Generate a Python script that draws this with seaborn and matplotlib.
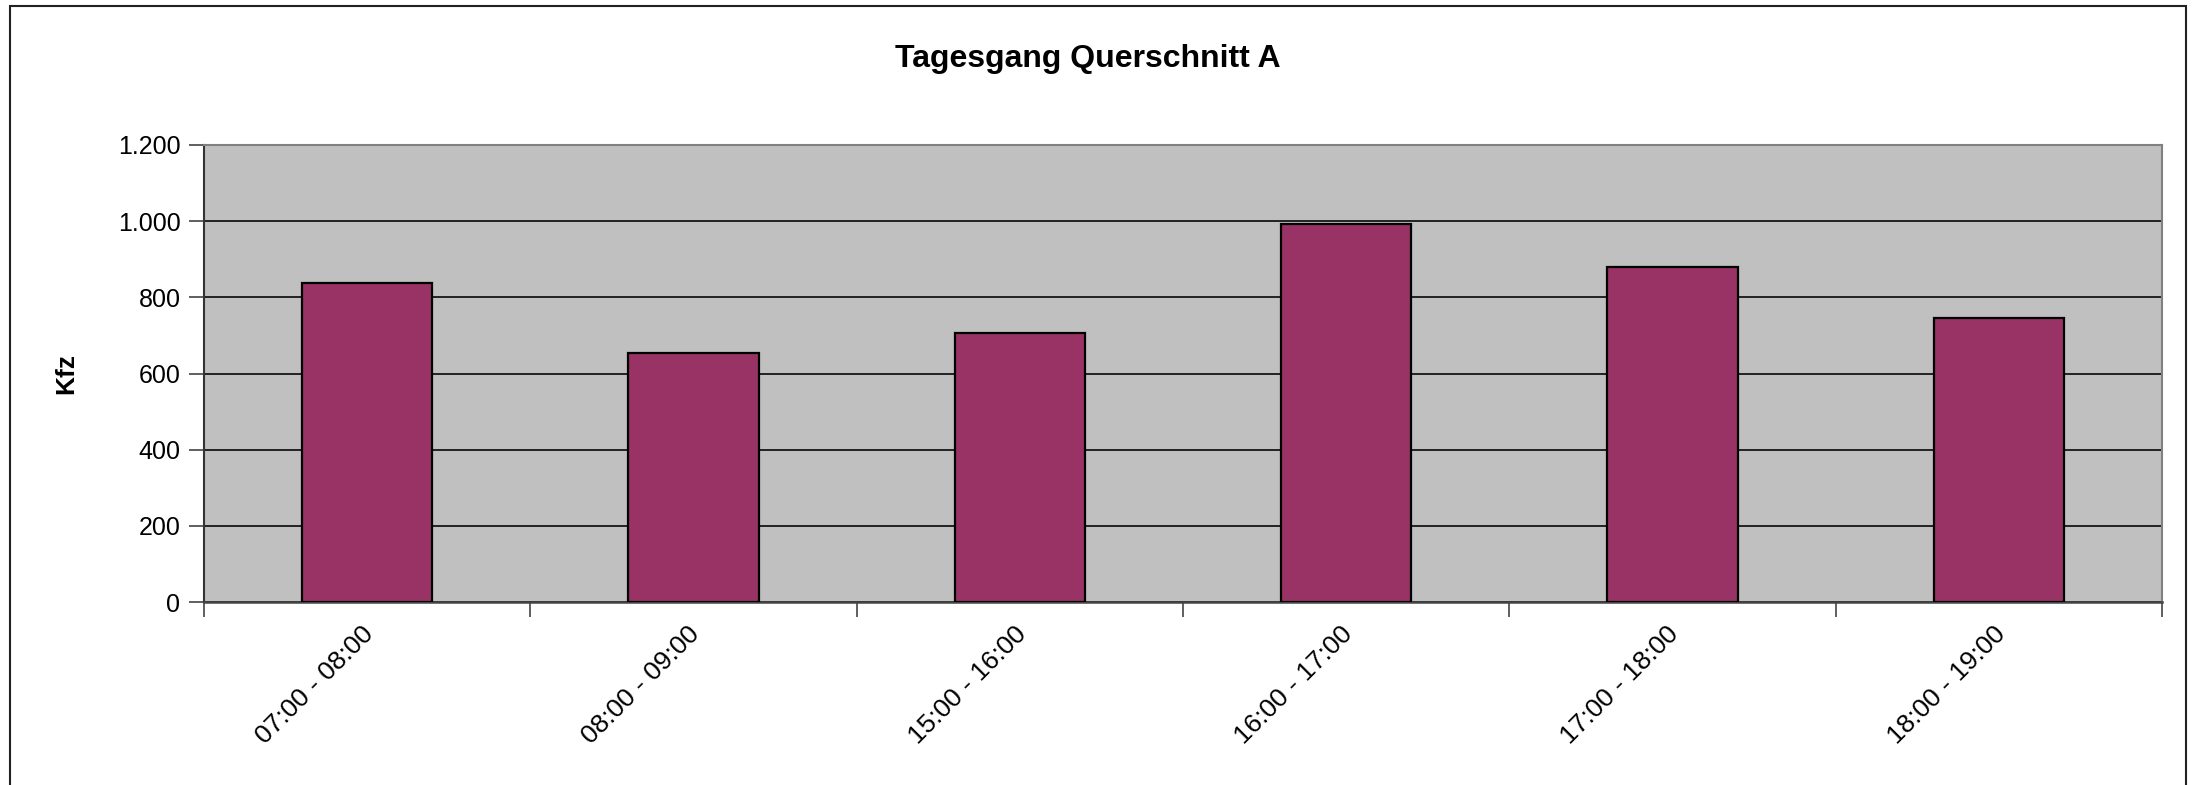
import matplotlib
matplotlib.use("Agg")
import matplotlib.pyplot as plt
import matplotlib.transforms as mtransforms
import seaborn as sns
import pandas as pd
from matplotlib.ticker import FuncFormatter, FixedLocator
from matplotlib.patches import Rectangle

categories = ["07:00 - 08:00", "08:00 - 09:00", "15:00 - 16:00",
              "16:00 - 17:00", "17:00 - 18:00", "18:00 - 19:00"]
values = [837, 654, 707, 992, 880, 745]
title = "Tagesgang Querschnitt A"
ylabel = "Kfz"
yticks = [0, 200, 400, 600, 800, 1000, 1200]

sns.set_theme(style="white")
plt.rcParams['font.family'] = ['Liberation Sans', 'DejaVu Sans']
plt.rcParams['text.color'] = 'black'
plt.rcParams['axes.labelcolor'] = 'black'
plt.rcParams['xtick.color'] = 'black'
plt.rcParams['ytick.color'] = 'black'

df = pd.DataFrame({"Zeit": categories, "Kfz": values})

fig = plt.figure(figsize=(21.94, 7.85), dpi=100)
ax = fig.add_axes([204/2194, 1-602/785, (2162-204)/2194, (602-145)/785])
ax.set_facecolor("#C0C0C0")

sns.barplot(data=df, x="Zeit", y="Kfz", color="#993366", edgecolor="black",
            linewidth=1.6, width=0.4, saturation=1, ax=ax, zorder=3)

ax.set_xlim(-0.5, len(categories) - 0.5)
ax.set_ylim(0, 1200)
ax.set_yticks(yticks)
ax.yaxis.set_major_formatter(FuncFormatter(lambda v, p: f"{int(v):,}".replace(",", ".")))
ax.grid(axis="y", color="#222222", linewidth=1.4, zorder=1)
ax.set_axisbelow(True)

# x ticks: labels at centers, marks at boundaries
ax.set_xticks(range(len(categories)))
ax.set_xticklabels(categories, rotation=45, ha="right", va="top",
                   rotation_mode="anchor", fontsize=19)
ax.xaxis.set_minor_locator(FixedLocator([i - 0.5 for i in range(len(categories) + 1)]))
ax.tick_params(axis="x", which="major", length=0, pad=12)
ax.tick_params(axis="x", which="minor", length=11, width=1.2, color="#444444",
               direction="out", bottom=True)
ax.tick_params(axis="y", which="major", length=11, width=1.2, color="#444444",
               direction="out", left=True, labelsize=18, pad=6)
offset = mtransforms.ScaledTranslation(-6/100, -3/100, fig.dpi_scale_trans)
for lbl in ax.get_xticklabels():
    lbl.set_transform(lbl.get_transform() + offset)

for s in ["top", "right"]:
    ax.spines[s].set_visible(True)
    ax.spines[s].set_color("#808080")
    ax.spines[s].set_linewidth(1.5)
ax.spines["left"].set_color("#333333")
ax.spines["left"].set_linewidth(1.5)
ax.spines["bottom"].set_color("#444444")
ax.spines["bottom"].set_linewidth(1.8)

ax.set_xlabel("")
ax.set_ylabel(ylabel, fontsize=19, fontweight="bold")
ax.yaxis.set_label_coords(-0.064, 0.5)

fig.text(1088/2194, 1 - 59/785, title, ha="center", va="center",
         fontsize=23, fontweight="bold", color="black")

fig.patches.append(Rectangle((10/2194, -0.1), (2186-10)/2194, 1.1 - 6/785,
                             transform=fig.transFigure, fill=False,
                             edgecolor="#222222", linewidth=1.5))

fig.savefig("out.png", dpi=100, facecolor="white")
